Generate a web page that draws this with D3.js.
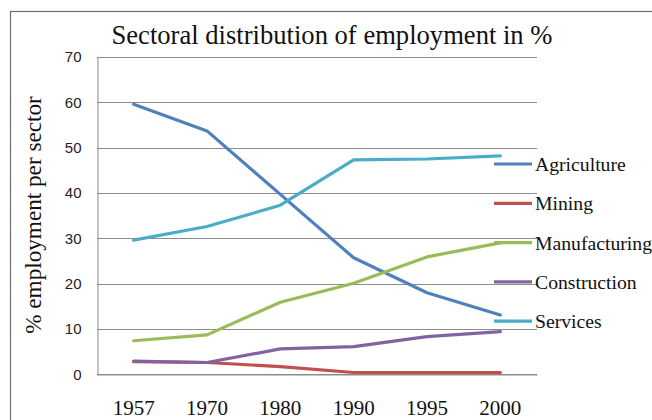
<!DOCTYPE html>
<html>
<head>
<meta charset="utf-8">
<script src="https://cdn.jsdelivr.net/npm/d3@7"></script>
<style>
  html, body { margin: 0; padding: 0; background: #fff; }
  svg { display: block; }
</style>
</head>
<body>
<svg id="chart" width="652" height="420"></svg>
<script>
// Employment share by sector (%), per census year
const years = ["1957", "1970", "1980", "1990", "1995", "2000"];
const agriculture   = [59.6, 53.7, 39.7, 25.7, 18.0, 13.1];
const mining        = [2.8, 2.6, 1.7, 0.4, 0.4, 0.4];
const manufacturing = [7.4, 8.7, 15.9, 20.1, 25.9, 29.0];
const construction  = [2.9, 2.6, 5.6, 6.1, 8.3, 9.4];
const services      = [29.6, 32.6, 37.3, 47.3, 47.5, 48.2];
const yTicks = [0, 10, 20, 30, 40, 50, 60, 70];

const series = [
  { name: "Agriculture",   values: agriculture,   color: "#4F81BD" },
  { name: "Mining",        values: mining,        color: "#C0504D" },
  { name: "Manufacturing", values: manufacturing, color: "#9BBB59" },
  { name: "Construction",  values: construction,  color: "#8064A2" },
  { name: "Services",      values: services,      color: "#4BACC6" }
];

const serif = "'Liberation Serif', 'Times New Roman', serif";
const svg = d3.select("#chart");
const plot = { left: 97, right: 537, top: 57, bottom: 374.3 };

// outer chart frame
svg.append("rect")
  .attr("x", 10.5).attr("y", 11.5)
  .attr("width", 700).attr("height", 500)
  .attr("fill", "none").attr("stroke", "#6e6e6e").attr("stroke-width", 1.2);

const x = d3.scaleBand().domain(years).range([plot.left, plot.right]);
const y = d3.scaleLinear().domain([0, 70]).range([plot.bottom, plot.top]);

// horizontal gridlines
svg.append("g")
  .selectAll("line")
  .data(yTicks)
  .join("line")
  .attr("x1", plot.left).attr("x2", plot.right)
  .attr("y1", d => Math.round(y(d)) + 0.5).attr("y2", d => Math.round(y(d)) + 0.5)
  .attr("stroke", "#8c8c8c").attr("stroke-width", 1);

// y axis
const yAxis = svg.append("g")
  .attr("transform", `translate(${plot.left + 0.5},0)`)
  .call(d3.axisLeft(y).tickValues(yTicks).tickSize(0).tickPadding(16));
yAxis.select(".domain").attr("stroke", "#8c8c8c");
yAxis.selectAll("text")
  .attr("font-family", "'Liberation Sans', Arial, sans-serif")
  .attr("font-size", 15).attr("fill", "#222");

// x axis
const axisY = Math.round(plot.bottom) + 0.5;
const xAxis = svg.append("g")
  .attr("transform", `translate(0,${axisY})`)
  .call(d3.axisBottom(x).tickSize(0));
xAxis.select(".domain").attr("stroke", "#8c8c8c");
xAxis.selectAll("text")
  .attr("y", 415 - axisY).attr("dy", 0)
  .attr("font-family", serif)
  .attr("font-size", 21).attr("fill", "#111");

// series lines
const line = d3.line()
  .x((d, i) => x(years[i]) + x.bandwidth() / 2)
  .y(d => y(d));

svg.append("g")
  .selectAll("path")
  .data(series)
  .join("path")
  .attr("d", d => line(d.values))
  .attr("fill", "none")
  .attr("stroke", d => d.color)
  .attr("stroke-width", 3.2)
  .attr("stroke-linejoin", "round")
  .attr("stroke-linecap", "round");

// legend
const legend = svg.append("g");
const items = legend.selectAll("g")
  .data(series)
  .join("g")
  .attr("transform", (d, i) => `translate(494,${164 + i * 39.3})`);
items.append("line")
  .attr("x1", 0).attr("x2", 38)
  .attr("stroke", d => d.color).attr("stroke-width", 3.2);
items.append("text")
  .attr("x", 41).attr("dy", "0.35em")
  .attr("font-family", serif)
  .attr("font-size", 19.7).attr("fill", "#111")
  .text(d => d.name);

// title
svg.append("text")
  .attr("x", 332).attr("y", 43.5)
  .attr("text-anchor", "middle")
  .attr("font-family", serif)
  .attr("font-size", 26.6).attr("fill", "#111")
  .text("Sectoral distribution of employment in %");

// y axis title
svg.append("text")
  .attr("transform", "translate(41,215) rotate(-90)")
  .attr("text-anchor", "middle")
  .attr("font-family", serif)
  .attr("font-size", 23.2).attr("fill", "#111")
  .text("% employment per sector");
</script>
</body>
</html>
